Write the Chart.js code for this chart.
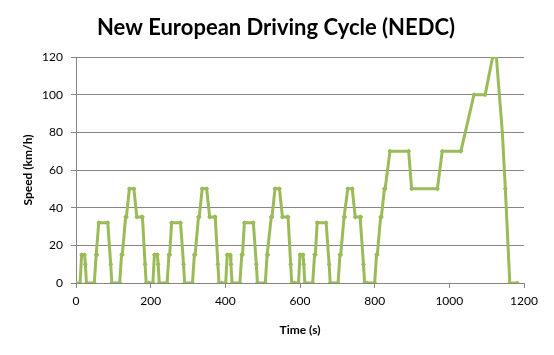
<!DOCTYPE html>
<html>
<head>
<meta charset="utf-8">
<script src="https://cdn.jsdelivr.net/npm/chart.js@4.4.1/dist/chart.umd.min.js"></script>
<style>
  html, body { margin: 0; padding: 0; background: #ffffff; }
  #wrap { width: 554px; height: 355px; position: relative; }
</style>
</head>
<body>
<div id="wrap"><canvas id="c" width="554" height="355"></canvas></div>
<script>
// ---- Data ----
const chartTitle = "New European Driving Cycle (NEDC)";
const xAxisTitle = "Time (s)";
const yAxisTitle = "Speed (km/h)";

const timeS = [
  0, 11, 15, 23, 25, 28, 49, 54, 56, 61, 85, 93, 96, 117, 122, 124, 133, 135, 143, 155, 163, 176, 178, 185, 188, 195,
  206, 210, 218, 220, 223, 244, 249, 251, 256, 280, 288, 291, 312, 317, 319, 328, 330, 338, 350, 358, 371, 373, 380, 383, 390,
  401, 405, 413, 415, 418, 439, 444, 446, 451, 475, 483, 486, 507, 512, 514, 523, 525, 533, 545, 553, 566, 568, 575, 578, 585,
  596, 600, 608, 610, 613, 634, 639, 641, 646, 670, 678, 681, 702, 707, 709, 718, 720, 728, 740, 748, 761, 763, 770, 773, 780,
  800, 805, 807, 816, 818, 826, 828, 841, 891, 899, 968, 981, 1031, 1066, 1096, 1116, 1126, 1142, 1150, 1162, 1182
];
const speedKmh = [
  0, 0, 15, 15, 10, 0, 0, 15, 15, 32, 32, 10, 0, 0, 15, 15, 35, 35, 50, 50, 35, 35, 35, 10, 0, 0,
  0, 15, 15, 10, 0, 0, 15, 15, 32, 32, 10, 0, 0, 15, 15, 35, 35, 50, 50, 35, 35, 35, 10, 0, 0,
  0, 15, 15, 10, 0, 0, 15, 15, 32, 32, 10, 0, 0, 15, 15, 35, 35, 50, 50, 35, 35, 35, 10, 0, 0,
  0, 15, 15, 10, 0, 0, 15, 15, 32, 32, 10, 0, 0, 15, 15, 35, 35, 50, 50, 35, 35, 35, 10, 0, 0,
  0, 15, 15, 35, 35, 50, 50, 70, 70, 50, 50, 70, 70, 100, 100, 120, 120, 80, 50, 0, 0
];
const xTicks = [0, 200, 400, 600, 800, 1000, 1200];
const yTicks = [0, 20, 40, 60, 80, 100, 120];

// ---- Chart ----
const points = timeS.map((t, i) => ({ x: t, y: speedKmh[i] }));
const GRID = '#868686';

const titlePlugin = {
  id: 'topTitle',
  afterDraw(chart) {
    const ctx = chart.ctx;
    ctx.save();
    ctx.fillStyle = '#000000';
    ctx.font = "bold 22px Lato, 'Open Sans', sans-serif";
    ctx.textAlign = 'center';
    ctx.textBaseline = 'alphabetic';
    ctx.fillText(chartTitle, 276, 35);
    ctx.restore();
  }
};

new Chart(document.getElementById('c'), {
  type: 'line',
  data: {
    datasets: [{
      data: points,
      borderColor: '#9BBB59',
      backgroundColor: '#9BBB59',
      borderWidth: 3,
      pointStyle: 'rectRot',
      pointRadius: 2.5,
      pointBorderWidth: 0,
      pointBackgroundColor: '#9BBB59',
      tension: 0,
      fill: false
    }]
  },
  options: {
    responsive: false,
    animation: false,
    devicePixelRatio: 1,
    layout: { padding: { top: 57, right: 30, bottom: 0, left: 0 } },
    plugins: {
      legend: { display: false },
      tooltip: { enabled: false },
      title: { display: false }
    },
    scales: {
      x: {
        type: 'linear',
        min: 0, max: 1200,
        afterBuildTicks(scale) { scale.ticks = xTicks.map(v => ({ value: v })); },
        afterFit(scale) { scale.height = 72; },
        border: { display: true, color: GRID, width: 1 },
        grid: { drawOnChartArea: false, drawTicks: true, tickLength: 5, color: GRID },
        ticks: { color: '#000000', font: { family: "Lato, sans-serif", size: 12 }, padding: 6, maxRotation: 0,
                 callback: v => String(v) },
        title: { display: true, text: xAxisTitle, color: '#000000',
                 font: { family: "Lato, sans-serif", size: 12, weight: 'bold' },
                 padding: { top: 0, bottom: 18 } }
      },
      y: {
        min: 0, max: 120,
        afterBuildTicks(scale) { scale.ticks = yTicks.map(v => ({ value: v })); },
        afterFit(scale) { scale.width = 76; },
        border: { display: true, color: GRID, width: 1 },
        grid: { color: GRID, lineWidth: 1, drawTicks: true, tickLength: 5 },
        ticks: { color: '#000000', font: { family: "Lato, sans-serif", size: 12 }, padding: 8,
                 callback: v => String(v) },
        title: { display: true, text: yAxisTitle, color: '#000000',
                 font: { family: "Lato, sans-serif", size: 12, weight: 'bold' },
                 padding: { top: 21, bottom: 0 } }
      }
    }
  },
  plugins: [titlePlugin]
});
</script>
</body>
</html>
